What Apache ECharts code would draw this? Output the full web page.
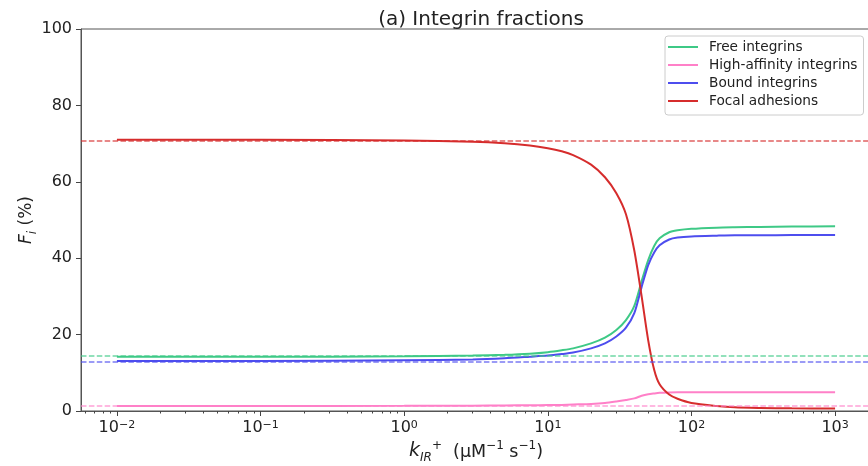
<!DOCTYPE html>
<html>
<head>
<meta charset="utf-8">
<script src="https://cdn.jsdelivr.net/npm/echarts@6/dist/echarts.min.js"></script>
<style>
html, body { margin: 0; padding: 0; background: #fff; }
#main { width: 868px; height: 466px; }
</style>
</head>
<body>
<div id="main"></div>
<script>
// k_IR^+ sample points (uM^-1 s^-1)
var kValues = [0.01, 0.1, 1, 3, 5, 7.5, 10, 12.5, 15, 20, 25, 30, 35, 40, 45, 50, 55, 60, 70, 80, 100, 150, 200, 300, 500, 1000];
var freeIntegrins = [14.2, 14.2, 14.3, 14.5, 14.7, 15.0, 15.4, 15.9, 16.4, 17.7, 19.2, 21.2, 23.8, 27.5, 34.0, 39.5, 43.2, 45.2, 46.8, 47.3, 47.7, 48.0, 48.1, 48.2, 48.3, 48.35];
var highAffinity = [1.3, 1.3, 1.35, 1.4, 1.45, 1.5, 1.55, 1.6, 1.7, 1.85, 2.1, 2.5, 2.9, 3.3, 4.0, 4.4, 4.6, 4.75, 4.85, 4.9, 4.9, 4.9, 4.9, 4.9, 4.9, 4.9];
var boundIntegrins = [13.1, 13.1, 13.3, 13.5, 13.8, 14.2, 14.5, 14.9, 15.3, 16.4, 17.7, 19.5, 21.8, 25.6, 32.5, 38.2, 41.5, 43.4, 44.9, 45.4, 45.7, 45.9, 46.0, 46.0, 46.05, 46.1];
var focalAdhesions = [71.0, 71.0, 70.8, 70.5, 70.1, 69.5, 68.8, 68.0, 67.0, 64.5, 61.2, 57.0, 51.5, 42.0, 30.0, 18.5, 10.8, 7.0, 4.3, 3.2, 2.1, 1.3, 0.95, 0.8, 0.7, 0.65];
// reference levels (dashed)
var baselines = [14.35, 1.31, 13.0, 70.8];

var names = ['Free integrins', 'High-affinity integrins', 'Bound integrins', 'Focal adhesions'];
var colors = ['#3ec986', '#ff80c8', '#4d4dee', '#d62c2c'];
var allData = [freeIntegrins, highAffinity, boundIntegrins, focalAdhesions];

var majorTicks = [-2, -1, 0, 1, 2, 3];
var minorTicks = [];
for (var n = -3; n <= 3; n++) {
    for (var m = 2; m <= 9; m++) {
        var v = Math.log10(m) + n;
        if (v > -2.25 && v < 3.25) minorTicks.push(v);
    }
}

var font = 'DejaVu Sans';
var series = [];
for (var i = 0; i < names.length; i++) {
    var pts = [];
    for (var j = 0; j < kValues.length; j++) {
        pts.push([Math.log10(kValues[j]), allData[i][j]]);
    }
    series.push({
        name: names[i],
        type: 'line',
        data: pts,
        symbol: 'none',
        smooth: 0.25,
        lineStyle: { color: colors[i], width: 2 },
        itemStyle: { color: colors[i] },
        markLine: {
            silent: true,
            symbol: 'none',
            label: { show: false },
            lineStyle: { color: colors[i], type: [5.5, 2.4], width: 1.5, opacity: 0.75 },
            data: [{ yAxis: baselines[i] }]
        }
    });
}

var myChart = echarts.init(document.getElementById('main'));
var option = {
    animation: false,
    backgroundColor: '#fff',
    textStyle: { fontFamily: font },
    title: {
        text: '(a) Integrin fractions',
        left: 476,
        top: 5,
        textAlign: 'center',
        textStyle: { fontFamily: font, fontSize: 20, fontWeight: 'normal', color: '#222' }
    },
    legend: {
        data: names,
        orient: 'vertical',
        left: 665,
        top: 36,
        icon: 'rect',
        itemWidth: 30,
        itemHeight: 2,
        itemGap: 4,
        padding: [4, 6, 7, 3],
        borderColor: '#ccc',
        borderWidth: 1,
        borderRadius: 3,
        backgroundColor: 'rgba(255,255,255,0.85)',
        textStyle: { fontFamily: font, fontSize: 13.7, color: '#222', lineHeight: 14, padding: [0, 0, 0, 6] }
    },
    grid: {
        left: 81, top: 29, right: -3, bottom: 55,
        outerBoundsMode: 'none',
        containLabel: false,
        show: true, borderColor: '#555', borderWidth: 1
    },
    xAxis: [{
        type: 'value',
        min: -2.25,
        max: 3.25,
        name: '{k|k}{sub|IR}{sup|+}{t|  (μM}{sup|−1}{t| s}{sup|−1}{t|)}',
        nameLocation: 'middle',
        nameGap: 31,
        nameMoveOverlap: false,
        nameTextStyle: {
            rich: {
                k: { fontFamily: font, fontSize: 19, fontStyle: 'italic', color: '#222', verticalAlign: 'bottom' },
                t: { fontFamily: font, fontSize: 17.5, color: '#222', verticalAlign: 'bottom' },
                sub: { fontFamily: font, fontSize: 12, fontStyle: 'italic', color: '#222', verticalAlign: 'bottom', padding: [0, 0, -3, 0] },
                sup: { fontFamily: font, fontSize: 12, color: '#222', verticalAlign: 'top', padding: [-2, 0, 0, 0] }
            }
        },
        axisLine: { onZero: false, lineStyle: { color: '#555', width: 1 } },
        axisTick: { customValues: majorTicks, length: 5, lineStyle: { color: '#444' } },
        axisLabel: {
            customValues: majorTicks,
            margin: 9,
            formatter: function (v) {
                var e = Math.round(v);
                return '{b|10}{s|' + (e < 0 ? '−' + (-e) : e) + '}';
            },
            rich: {
                b: { fontFamily: font, fontSize: 16, color: '#222', verticalAlign: 'bottom' },
                s: { fontFamily: font, fontSize: 11, color: '#222', verticalAlign: 'top' }
            }
        },
        splitLine: { show: false }
    }, {
        type: 'value',
        min: -2.25,
        max: 3.25,
        position: 'bottom',
        axisLine: { show: false, onZero: false },
        axisTick: { customValues: minorTicks, length: 2.5, lineStyle: { color: '#444' } },
        axisLabel: { show: false },
        splitLine: { show: false }
    }],
    yAxis: {
        type: 'value',
        min: 0,
        max: 100,
        interval: 20,
        name: '{f|F}{i|i}{t| (%)}',
        nameLocation: 'middle',
        nameGap: 46,
        nameMoveOverlap: false,
        nameTextStyle: {
            rich: {
                f: { fontFamily: font, fontSize: 17, fontStyle: 'italic', color: '#222' },
                i: { fontFamily: font, fontSize: 12, fontStyle: 'italic', color: '#222', verticalAlign: 'bottom', padding: [0, 0, -4, 0] },
                t: { fontFamily: font, fontSize: 17, color: '#222' }
            }
        },
        axisLine: { show: true, onZero: false, lineStyle: { color: '#555', width: 1 } },
        axisTick: { show: true, length: 5, lineStyle: { color: '#444' } },
        axisLabel: { fontFamily: font, fontSize: 16, color: '#222', margin: 9 },
        splitLine: { show: false }
    },
    series: series
};
myChart.setOption(option);
</script>
</body>
</html>
